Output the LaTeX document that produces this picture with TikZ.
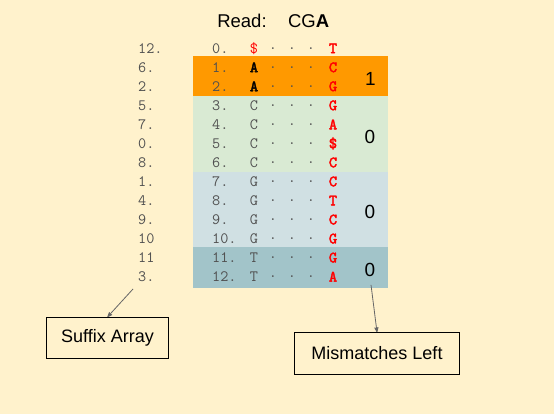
\documentclass[tikz,border=0pt]{standalone}
\usepackage{fontspec}
\setmainfont{Liberation Sans}
\newfontfamily\heavymono[FakeBold=2.5]{lmmono10-regular.otf}
\usetikzlibrary{arrows,positioning,calc}
\definecolor{paper}{HTML}{FFF2CC}
\definecolor{bandA}{HTML}{FF9900}
\definecolor{bandC}{HTML}{D9EAD3}
\definecolor{bandG}{HTML}{D0E0E3}
\definecolor{bandT}{HTML}{A2C4C9}
\definecolor{ink}{HTML}{505050}
\definecolor{hit}{HTML}{FF0000}
\newcommand{\monosize}{\fontsize{15.8}{16}\selectfont}
\tikzset{
  cell/.style    = {inner sep=0pt, font=\ttfamily\monosize, text=ink},
  fplain/.style  = {cell},
  fbold/.style   = {cell, text=black, font=\heavymono\monosize},
  fdollar/.style = {cell, text=hit},
  lastch/.style  = {cell, text=hit, font=\heavymono\monosize},
  count/.style   = {inner sep=0pt, font=\fontsize{19}{20}\selectfont},
  title/.style   = {inner sep=0pt, font=\fontsize{18.5}{20}\selectfont},
  namebox/.style = {draw, line width=1pt, inner sep=0pt, minimum height=41.5pt,
                    font=\fontsize{18}{20}\selectfont}
}

\begin{document}
\begin{tikzpicture}[x=1pt,y=-1pt,->,>=stealth',
  pointer/.style={draw=black!60, line width=0.8pt}]
\fill[paper] (0,0) rectangle (554,414);
\useasboundingbox (0,0) rectangle (554,414);
% buckets by first character
\fill[bandA] (193,56) rectangle (388,96.5);
\fill[bandC] (193,96.5) rectangle (388,172);
\fill[bandG] (193,172) rectangle (388,247);
\fill[bandT] (193,247) rectangle (388,288);

\node [title] (read) at (242,21) {Read:};
\node [title, right=21pt of read] (cga) {CG\textbf{A}};

\foreach \sa/\fc/\fs/\lc [count=\r from 0] in {12./\$/fdollar/T, 6./A/fbold/C,
    2./A/fbold/G, 5./C/fplain/G, 7./C/fplain/A, 0./C/fplain/\$, 8./C/fplain/C,
    1./G/fplain/C, 4./G/fplain/T, 9./G/fplain/C, 10/G/fplain/G,
    11/T/fplain/G, 3./T/fplain/A}{
  \pgfmathsetmacro\y{48.3+19.03*\r}
  \node [cell, anchor=west] (sa\r) at (138,\y) {\sa};
  \node [cell, anchor=west] (ix\r) at (212,\y) {\r.};
  \node [\fs] (fc\r) at (254,\y) {\fc};
  \node [cell] (dt\r) at (292,\y) {\makebox[19pt]{.}\makebox[19pt]{.}\makebox[19pt]{.}};
  \node [lastch] (lc\r) at (333,\y) {\lc};
}

\node [count] (m1) at (370.5,79) {1};
\node [count] (m2) at (370,136.7) {0};
\node [count] (m3) at (370,211.7) {0};
\node [count] (m4) at (370,270) {0};

\node [namebox, minimum width=121.6pt] (sabox) at (107.5,338.2) {Suffix Array};
\node [namebox, minimum width=165.4pt] (mlbox) at (377,353.4) {Mismatches Left};

\coordinate (satail) at (133,289);
\draw [pointer] (satail) -- (sabox.north);
\draw [pointer, shorten <=8pt] (m4.south) -- (mlbox.north);
\end{tikzpicture}
\end{document}
